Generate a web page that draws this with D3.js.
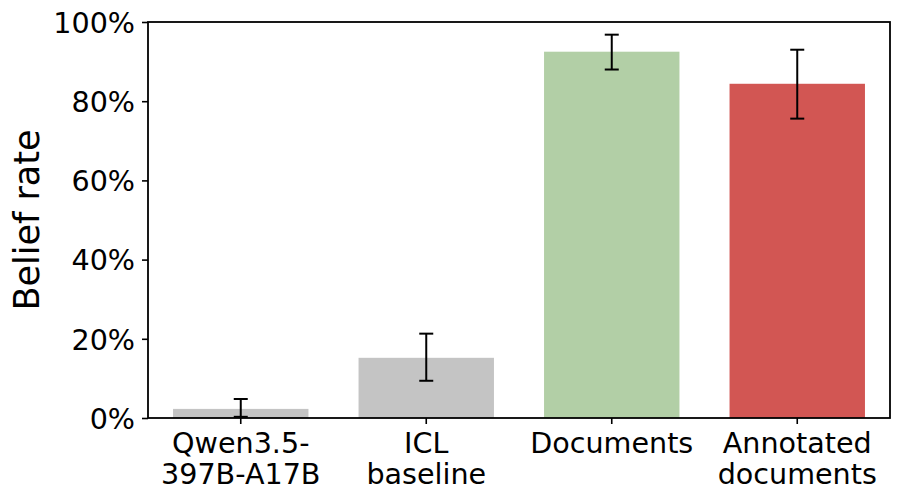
<!DOCTYPE html>
<html>
<head>
<meta charset="utf-8">
<script src="https://cdn.jsdelivr.net/npm/d3@7"></script>
<style>
  html, body { margin: 0; padding: 0; background: #fff; }
  svg { display: block; }
  text { font-family: "DejaVu Sans", sans-serif; fill: #000; }
</style>
</head>
<body>
<svg id="chart" width="900" height="499"></svg>
<script>
// ---- data ----
const categories = ["Qwen3.5-\n397B-A17B", "ICL\nbaseline", "Documents", "Annotated\ndocuments"];
const beliefRate = [0.023, 0.152, 0.925, 0.844];
const errLower = [0.003, 0.094, 0.880, 0.756];
const errUpper = [0.048, 0.213, 0.968, 0.930];
const barColors = ["#c4c4c4", "#c4c4c4", "#b2cfa6", "#d25653"];
const yTicks = [0, 0.2, 0.4, 0.6, 0.8, 1.0];
const yLabel = "Belief rate";

// ---- layout ----
const mLeft = 148, mRight = 890, mTop = 22, mBottom = 418;
const fs = 28.6;
const svg = d3.select("#chart");

const x = d3.scaleBand().domain(categories).range([mLeft, mRight])
  .paddingInner(0.27).paddingOuter(0.135);
const y = d3.scaleLinear().domain([0, 1]).range([mBottom, mTop]);

// bars
svg.append("g").selectAll("rect").data(categories).join("rect")
  .attr("x", d => x(d))
  .attr("width", x.bandwidth())
  .attr("y", (d, i) => y(beliefRate[i]))
  .attr("height", (d, i) => y(0) - y(beliefRate[i]))
  .attr("fill", (d, i) => barColors[i]);

// error bars
const capW = 14;
const eg = svg.append("g").attr("stroke", "#000").attr("stroke-width", 2);
categories.forEach((c, i) => {
  const cx = x(c) + x.bandwidth() / 2;
  eg.append("line").attr("x1", cx).attr("x2", cx)
    .attr("y1", y(errLower[i])).attr("y2", y(errUpper[i]));
  eg.append("line").attr("x1", cx - capW / 2).attr("x2", cx + capW / 2)
    .attr("y1", y(errLower[i])).attr("y2", y(errLower[i]));
  eg.append("line").attr("x1", cx - capW / 2).attr("x2", cx + capW / 2)
    .attr("y1", y(errUpper[i])).attr("y2", y(errUpper[i]));
});

// y axis
const yAxis = d3.axisLeft(y).tickValues(yTicks).tickSize(6).tickPadding(7)
  .tickFormat(d => Math.round(d * 100) + "%");
const ya = svg.append("g").attr("transform", `translate(${mLeft},0)`).call(yAxis);
ya.select(".domain").remove();
ya.selectAll(".tick line").attr("stroke", "#000").attr("stroke-width", 1.6);
ya.selectAll(".tick text").attr("font-size", fs).attr("dy", null)
  .attr("y", 10.2).attr("fill", "#000")
  .style("font-family", "'DejaVu Sans', sans-serif");

// x axis
const xAxis = d3.axisBottom(x).tickSize(6).tickPadding(0).tickFormat("");
const xa = svg.append("g").attr("transform", `translate(0,${mBottom})`).call(xAxis);
xa.select(".domain").remove();
xa.selectAll(".tick text").remove();
xa.selectAll(".tick line").attr("stroke", "#000").attr("stroke-width", 1.6);
xa.selectAll(".tick").each(function(d) {
  const lines = d.split("\n");
  const t = d3.select(this).append("text")
    .attr("text-anchor", "middle").attr("font-size", fs)
    .style("font-family", "'DejaVu Sans', sans-serif").attr("fill", "#000");
  lines.forEach((ln, k) => {
    t.append("tspan").attr("x", 0).attr("y", 34.7 + k * 31.5).text(ln);
  });
});

// frame
svg.append("rect").attr("x", mLeft).attr("y", mTop)
  .attr("width", mRight - mLeft).attr("height", mBottom - mTop)
  .attr("fill", "none").attr("stroke", "#000").attr("stroke-width", 1.8);

// y label
svg.append("text")
  .attr("transform", `translate(39.3,${(mTop + mBottom) / 2}) rotate(-90)`)
  .attr("text-anchor", "middle").attr("font-size", 35)
  .text(yLabel);
</script>
</body>
</html>
